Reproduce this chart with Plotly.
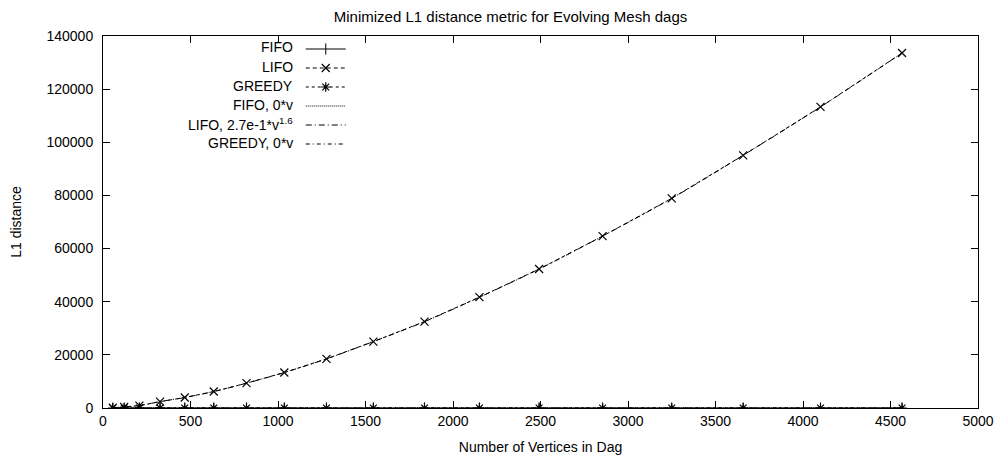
import plotly.graph_objects as go

# Data
vertices = [56, 121, 208, 326, 467, 633, 820, 1036, 1277, 1545, 1837, 2151, 2492, 2855, 3250, 3658, 4100, 4566]
fifo = [0, 0, 0, 0, 0, 0, 0, 0, 0, 0, 0, 0, 0, 0, 0, 0, 0, 0]
lifo = [120, 400, 900, 2400, 3950, 6200, 9350, 13350, 18500, 25000, 32500, 41700, 52300, 64700, 78900, 95100, 113300, 133600]
greedy = [0, 0, 0, 0, 0, 0, 0, 0, 0, 0, 0, 0, 0, 0, 0, 0, 0, 0]
fifo_fit = [0, 0, 0, 0, 0, 0, 0, 0, 0, 0, 0, 0, 0, 0, 0, 0, 0, 0]
lifo_fit = [120, 400, 900, 2400, 3950, 6200, 9350, 13350, 18500, 25000, 32500, 41700, 52300, 64700, 78900, 95100, 113300, 133600]
greedy_fit = [0, 0, 0, 0, 0, 0, 0, 0, 0, 0, 0, 0, 0, 0, 0, 0, 0, 0]

series_names = ["FIFO", "LIFO", "GREEDY", "FIFO, 0*v", "LIFO, 2.7e-1*v<sup>1.6</sup>", "GREEDY, 0*v"]

x_ticks = [0, 500, 1000, 1500, 2000, 2500, 3000, 3500, 4000, 4500, 5000]
y_ticks = [0, 20000, 40000, 60000, 80000, 100000, 120000, 140000]

FONT = "Liberation Sans, Arial, Helvetica, sans-serif"

fig = go.Figure()
fig.add_trace(go.Scatter(
    x=vertices, y=fifo, name=" ", mode="lines+markers",
    line=dict(color="black", width=1),
    marker=dict(symbol="line-ns", size=8, color="black", line=dict(color="black", width=1))))
fig.add_trace(go.Scatter(
    x=vertices, y=lifo, name=" ", mode="lines+markers",
    line=dict(color="black", width=1, dash="4px,3px"),
    marker=dict(symbol="x-thin", size=8, color="black", line=dict(color="black", width=1.2))))
fig.add_trace(go.Scatter(
    x=vertices, y=greedy, name=" ", mode="lines+markers",
    line=dict(color="black", width=1, dash="3px,3px"),
    marker=dict(symbol="asterisk", size=8, color="black", line=dict(color="black", width=1.2))))
fig.add_trace(go.Scatter(
    x=vertices, y=fifo_fit, name=" ", mode="lines",
    line=dict(color="black", width=1, dash="1px,1px")))
fig.add_trace(go.Scatter(
    x=vertices, y=lifo_fit, name=" ", mode="lines", line_shape="spline",
    line=dict(color="black", width=1, dash="6px,3px,1px,3px")))
fig.add_trace(go.Scatter(
    x=vertices, y=greedy_fit, name=" ", mode="lines",
    line=dict(color="black", width=1, dash="4px,3px,1px,3px")))

# Legend labels (gnuplot style: text right-aligned left of the sample)
row_y = [0.9691, 0.9176, 0.8660, 0.8145, 0.7630, 0.7114]
for name, yy in zip(series_names, row_y):
    fig.add_annotation(text=name, xref="paper", yref="paper", x=0.2194, y=yy,
                       xanchor="right", yanchor="middle", showarrow=False,
                       font=dict(family=FONT, size=14, color="black"))

axis_common = dict(
    showgrid=False, zeroline=False, showline=True, linecolor="black", linewidth=1,
    mirror="ticks", ticks="inside", ticklen=7, tickcolor="black", tickwidth=1,
    tickfont=dict(family=FONT, size=14, color="black"), automargin=False,
)

fig.update_layout(
    width=1005, height=459,
    paper_bgcolor="white", plot_bgcolor="white",
    margin=dict(l=95, r=35, t=27.5, b=59),
    title=dict(text="Minimized L1 distance metric for Evolving Mesh dags",
               font=dict(family=FONT, size=15, color="black"),
               x=0.5, xanchor="center", xref="container", yref="container",
               y=1 - 8.5 / 459, yanchor="middle"),
    xaxis=dict(range=[0, 5000], tickvals=x_ticks, ticktext=[str(v) for v in x_ticks],
               ticklabelstandoff=0,
               title=dict(text="Number of Vertices in Dag", font=dict(family=FONT, size=14, color="black"),
                          standoff=14),
               **axis_common),
    yaxis=dict(range=[0, 140000], tickvals=y_ticks, ticktext=[str(v) for v in y_ticks],
               ticklabelstandoff=6,
               title=dict(text="L1 distance", font=dict(family=FONT, size=14, color="black"),
                          standoff=21),
               **axis_common),
    legend=dict(x=0.226, y=1.004, xanchor="left", yanchor="top",
                bgcolor="rgba(0,0,0,0)", borderwidth=0,
                font=dict(family=FONT, size=10.4, color="black"),
                tracegroupgap=0, itemwidth=40),
    showlegend=True,
)

fig.write_html("out.html")
